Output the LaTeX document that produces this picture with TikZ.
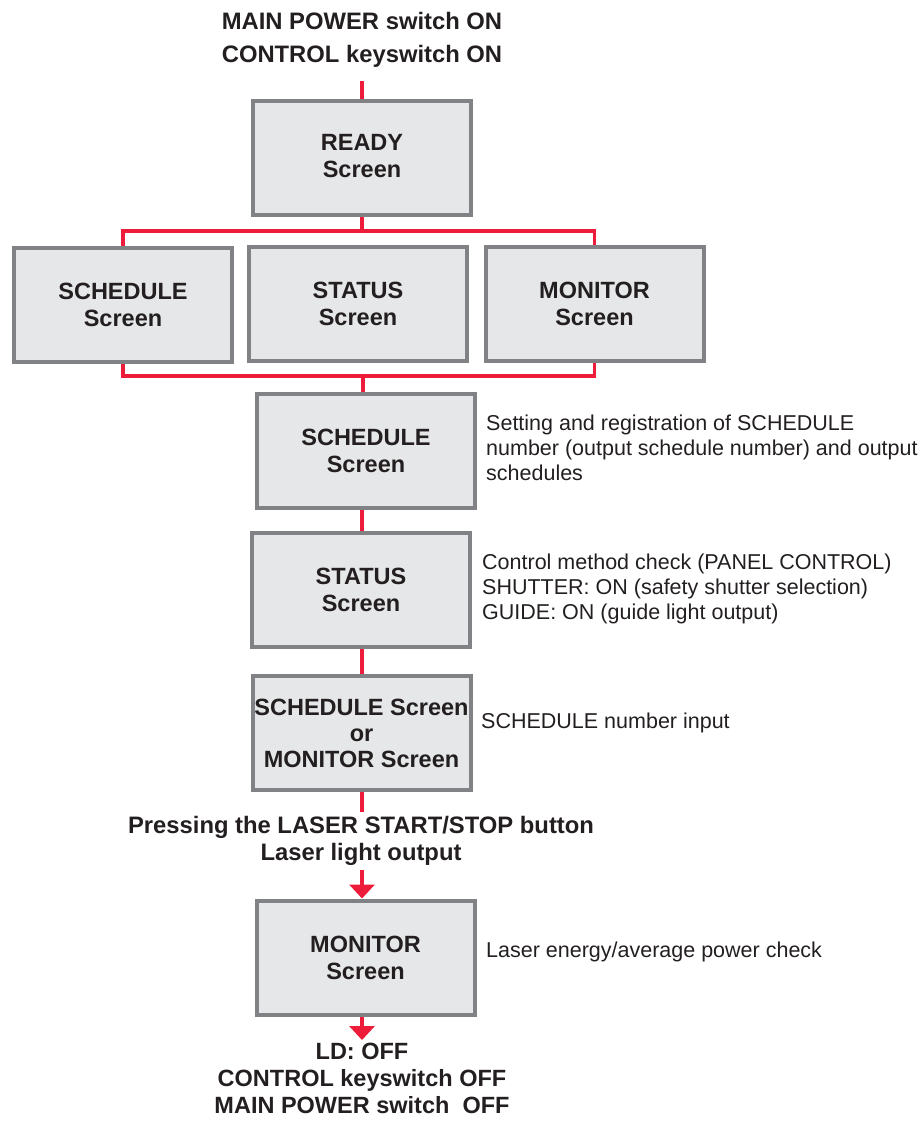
\documentclass[tikz,border=0pt]{standalone}
\usepackage{fontspec}
\setmainfont{Liberation Sans}
\usetikzlibrary{arrows.meta}
\definecolor{flowred}{RGB}{237,28,58}
\definecolor{boxedge}{RGB}{128,130,133}
\definecolor{boxfill}{RGB}{230,231,232}
\definecolor{inkc}{RGB}{35,31,32}
\begin{document}
\begin{tikzpicture}[x=1pt,y=-1pt,
  screenbox/.style={draw=boxedge,line width=4pt,fill=boxfill,minimum width=218pt,minimum height=114pt,
    inner sep=0pt,align=center,text=inkc,font=\fontsize{23.5}{27}\selectfont\bfseries},
  headtext/.style={align=center,text=inkc,inner sep=0pt,font=\fontsize{23.8}{33}\selectfont\bfseries},
  steptext/.style={align=center,text=inkc,inner ysep=4pt,inner xsep=0pt,font=\fontsize{23.8}{27}\selectfont\bfseries},
  notetext/.style={align=left,text=inkc,inner sep=0pt,font=\fontsize{21.5}{25}\selectfont},
  redline/.style={draw=flowred,line width=3.5pt},
  redarrow/.style={draw=flowred,line width=3.5pt,-{Triangle[width=25pt,length=14pt]}},
]
\useasboundingbox (0,0) rectangle (921,1124);
% headline
\node[headtext,anchor=north] (head) at (362,12) {MAIN POWER switch ON\\CONTROL keyswitch ON};
\coordinate (t0) at (362,81);
\coordinate (axis) at (362,0);
% boxes
\node[screenbox] (ready) at (362,158) {READY\\Screen\rule[-5pt]{0pt}{5pt}};
\node[screenbox] (sch1) at (123,304.5) {SCHEDULE\\Screen};
\node[screenbox] (stat1) at (358,303.5) {STATUS\\Screen};
\node[screenbox] (mon1) at (594.5,303.5) {MONITOR\\Screen};
\node[screenbox] (sch2) at (366,451) {SCHEDULE\\Screen};
\node[screenbox] (stat2) at (361,590) {STATUS\\Screen};
\node[screenbox,font=\fontsize{23.5}{26}\selectfont\bfseries] (sel) at (361.5,733) {SCHEDULE Screen\\or\\MONITOR Screen};
\node[steptext,anchor=north] (press) at (361,812) {Pressing the LASER START/STOP button\\Laser light output};
\node[screenbox] (mon2) at (365.5,957.5) {MONITOR\\Screen};
\node[headtext,inner ysep=3pt,font=\fontsize{23.5}{27}\selectfont\bfseries,anchor=north] (off) at (362,1040) {LD: OFF\\CONTROL keyswitch OFF\\MAIN POWER switch\ \ OFF};
% notes
\node[notetext,anchor=north west] (n1) at (486,415) {Setting and registration of SCHEDULE\\number (output schedule number) and output\\schedules};
\node[notetext,anchor=north west] (n2) at (482,553.5) {Control method check (PANEL CONTROL)\\SHUTTER: ON (safety shutter selection)\\GUIDE: ON (guide light output)};
\node[notetext,anchor=base west] (n3) at (481,728) {SCHEDULE number input};
\node[notetext,anchor=base west] (n4) at (486,957) {Laser energy/average power check};
% connectors
\coordinate (j1) at (362,231);
\coordinate (j2) at (363,376);
\draw[redline] (t0) -- (ready.north -| axis);
\draw[redline] (ready.south -| axis) -- (j1);
\draw[redline] (sch1.north) |- (j1) -| (mon1.north);
\draw[redline] (sch1.south) |- (j2) -| (mon1.south);
\draw[redline] (j2) -- (sch2.north -| j2);
\draw[redline] (sch2.south -| axis) -- (stat2.north -| axis);
\draw[redline] (stat2.south -| axis) -- (sel.north -| axis);
\draw[redline] (sel.south -| axis) -- (press.north -| axis);
\draw[redarrow] (press.south -| axis) -- (mon2.north -| axis);
\draw[redarrow] (mon2.south -| axis) -- (off.north -| axis);
\end{tikzpicture}
\end{document}
